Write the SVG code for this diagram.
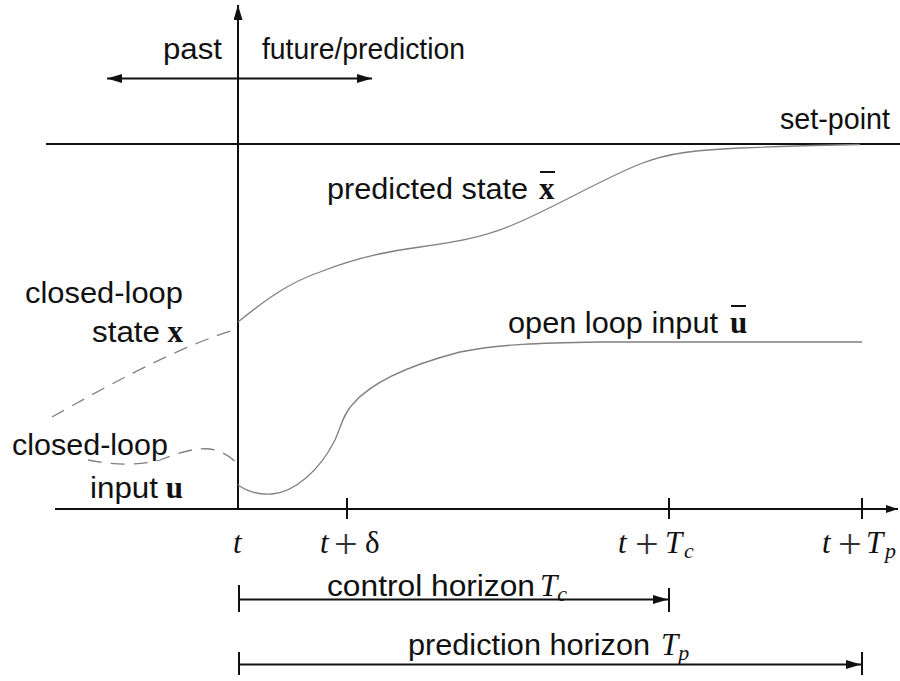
<svg xmlns="http://www.w3.org/2000/svg" width="900" height="681" viewBox="0 0 900 681">
<style>
.lbl{font-family:"Liberation Sans",Arial,sans-serif;font-size:29px;fill:#111}
.math{font-family:"Liberation Serif","Times New Roman",serif;font-size:31px;fill:#111}
.plus{font-family:"Liberation Serif","Times New Roman",serif;font-size:42px;fill:#333}
.sub{font-size:22px}
.it{font-style:italic}
.bold{font-weight:bold}
.axis{stroke:#111;stroke-width:2;fill:none}
.curve{stroke:#808080;stroke-width:1.3;fill:none}
.dash{stroke:#808080;stroke-width:1.3;fill:none;stroke-dasharray:14 9}
.bar{stroke:#111;stroke-width:2}
</style>
<defs>
<marker id="ah" markerUnits="userSpaceOnUse" markerWidth="15" markerHeight="9" refX="15" refY="4.5" orient="auto-start-reverse">
<path d="M0,0 L15,4.5 L0,9 z" fill="#111"/>
</marker>
<marker id="ahs" markerUnits="userSpaceOnUse" markerWidth="12" markerHeight="8" refX="12" refY="4" orient="auto">
<path d="M0,0 L12,4 L0,8 z" fill="#111"/>
</marker>
</defs>
<rect width="900" height="681" fill="#fff"/>

<g id="connectors">
<line id="time-axis" class="axis" x1="55" y1="509" x2="898" y2="509" marker-end="url(#ahs)"/>
<line id="value-axis" class="axis" x1="238" y1="509" x2="238" y2="5" marker-end="url(#ah)"/>
<line id="past-future" class="axis" x1="107" y1="78.5" x2="372" y2="78.5" marker-start="url(#ah)" marker-end="url(#ah)"/>
<line id="set-point-line" class="axis" x1="46" y1="144" x2="900" y2="144"/>
<line class="axis" x1="347" y1="498" x2="347" y2="519"/>
<line class="axis" x1="669" y1="498" x2="669" y2="519"/>
<line class="axis" x1="862" y1="498" x2="862" y2="519"/>
<line class="axis" x1="239" y1="585" x2="239" y2="612"/>
<line class="axis" x1="669" y1="588" x2="669" y2="612"/>
<line class="axis" x1="239" y1="599.5" x2="668" y2="599.5" marker-end="url(#ah)"/>
<line class="axis" x1="239" y1="652" x2="239" y2="675"/>
<line class="axis" x1="862" y1="652" x2="862" y2="675"/>
<line class="axis" x1="239" y1="664.5" x2="861" y2="664.5" marker-end="url(#ah)"/>
</g>

<g id="curves">
<path id="predicted-state" class="curve" d="M238,322 C265,300 290,282 320,272 C350,260 380,252 420,247 C455,242 480,238 510,226 C550,210 600,180 640,164 C670,152 700,150 740,148 C790,146 830,145 860,144.5"/>
<path id="open-loop-input" class="curve" d="M238,485 C248,492 260,495 272,494 C295,492 320,470 335,440 C342,424 343,415 352,405 C370,383 410,365 460,352 C500,344 540,343 600,342 L862,342"/>
<path id="closed-loop-state" class="dash" d="M52,417 C100,390 180,345 238,329"/>
<path id="closed-loop-input" class="dash" d="M88,460 C110,465 140,466 160,460 C180,452 200,446 215,450 C225,453 233,458 238,465"/>
</g>

<g id="label-past"><text class="lbl" x="163" y="59" textLength="59" lengthAdjust="spacingAndGlyphs">past</text></g>
<g id="label-future"><text class="lbl" x="262" y="59" textLength="203" lengthAdjust="spacingAndGlyphs">future/prediction</text></g>
<g id="label-setpoint"><text class="lbl" x="780" y="129" textLength="110" lengthAdjust="spacingAndGlyphs">set-point</text></g>
<g id="label-predicted">
<text class="lbl" x="327" y="199" textLength="201" lengthAdjust="spacingAndGlyphs">predicted state</text>
<text class="math bold" x="539" y="199">x</text>
<line class="bar" x1="540" y1="172" x2="555" y2="172"/>
</g>
<g id="label-openloop">
<text class="lbl" x="508" y="333" textLength="210" lengthAdjust="spacingAndGlyphs">open loop input</text>
<text class="math bold" x="730" y="333">u</text>
<line class="bar" x1="731" y1="306" x2="746" y2="306"/>
</g>
<g id="label-cl-state">
<text class="lbl" x="25" y="303" textLength="158" lengthAdjust="spacingAndGlyphs">closed-loop</text>
<text class="lbl" x="92" y="342" textLength="68" lengthAdjust="spacingAndGlyphs">state</text>
<text class="math bold" x="183" y="342" text-anchor="end">x</text>
</g>
<g id="label-cl-input">
<text class="lbl" x="12" y="455" textLength="156" lengthAdjust="spacingAndGlyphs">closed-loop</text>
<text class="lbl" x="90" y="498" textLength="68" lengthAdjust="spacingAndGlyphs">input</text>
<text class="math bold" x="183" y="498" text-anchor="end">u</text>
</g>
<g id="tick-labels">
<text class="math it" x="233" y="553">t</text>
<text class="math it" x="320" y="553">t</text><text class="plus" x="334" y="558">+</text><text class="math" x="365" y="553">δ</text>
<text class="math it" x="618" y="553">t</text><text class="plus" x="635" y="558">+</text><text class="math it" x="665" y="553">T</text><text class="math it sub" x="684" y="558">c</text>
<text class="math it" x="822" y="553">t</text><text class="plus" x="838" y="558">+</text><text class="math it" x="866" y="553">T</text><text class="math it sub" x="885" y="558">p</text>
</g>
<g id="label-control-horizon">
<text class="lbl" x="327" y="596" textLength="208" lengthAdjust="spacingAndGlyphs">control horizon</text>
<text class="math" x="540" y="596"><tspan class="it">T</tspan><tspan class="it sub" dy="5">c</tspan></text>
</g>
<g id="label-prediction-horizon">
<text class="lbl" x="408" y="655" textLength="242" lengthAdjust="spacingAndGlyphs">prediction horizon</text>
<text class="math" x="661" y="655"><tspan class="it">T</tspan><tspan class="it sub" dy="5">p</tspan></text>
</g>
</svg>
